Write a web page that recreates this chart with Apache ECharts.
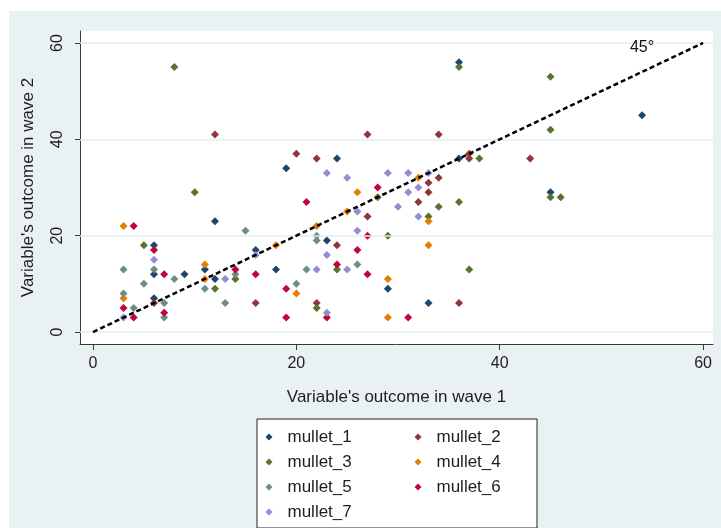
<!DOCTYPE html>
<html><head><meta charset="utf-8">
<script src="https://cdn.jsdelivr.net/npm/echarts@6/dist/echarts.min.js"></script>
<style>html,body{margin:0;padding:0;background:#fff;}#c{width:721px;height:528px;}</style>
</head><body><div id="c"></div>
<script>
// ---- data ----
const seriesNames = ['mullet_1','mullet_2','mullet_3','mullet_4','mullet_5','mullet_6','mullet_7'];
const mullet_1 = [[36,56],[54,45],[36,36],[24,36],[19,34],[12,23],[45,29],[6,18],[23,19],[16,17],[6,12],[9,12],[11,13],[12,11],[18,13],[29,9],[33,6],[6,7]];
const mullet_2 = [[12,41],[27,41],[34,41],[20,37],[22,36],[43,36],[37,37],[37,36],[34,32],[33,31],[33,29],[32,27],[27,24],[24,18],[16,6],[22,6],[36,6],[6,6]];
const mullet_3 = [[8,55],[36,55],[45,53],[45,42],[38,36],[10,29],[28,28],[45,28],[46,28],[36,27],[34,26],[33,24],[29,20],[5,18],[37,13],[24,13],[14,11],[12,9],[22,5]];
const mullet_4 = [[3,22],[3,7],[11,14],[11,11],[18,18],[20,8],[22,22],[25,25],[26,29],[32,32],[33,23],[33,18],[29,11],[29,3]];
const mullet_5 = [[3,13],[3,8],[4,5],[5,10],[6,13],[7,6],[7,3],[8,11],[11,9],[13,6],[14,12],[15,21],[20,10],[21,13],[22,20],[22,19],[26,14]];
const mullet_6 = [[4,22],[3,5],[4,3],[6,17],[7,12],[7,4],[14,13],[16,12],[19,9],[19,3],[21,27],[23,3],[24,14],[26,17],[27,20],[27,12],[28,30],[31,3]];
const mullet_7 = [[3,3],[6,15],[13,11],[16,16],[23,33],[25,32],[26,25],[26,21],[23,16],[22,13],[25,13],[23,4],[29,33],[31,33],[33,33],[30,26],[31,29],[32,30],[32,24]];
const xTicks = [0,20,40,60];
const yTicks = [0,20,40,60];
const diagonal = [[0,0],[60,60]];
const diagonalText = '45°';
const diagonalTextAt = [[54,59]];
const xTitle = "Variable's outcome in wave 1";
const yTitle = "Variable's outcome in wave 2";
const legendLeftCol = ['mullet_1','mullet_3','mullet_5','mullet_7'];
const legendRightCol = ['mullet_2','mullet_4','mullet_6'];

// ---- style ----
const seriesData = [mullet_1, mullet_2, mullet_3, mullet_4, mullet_5, mullet_6, mullet_7];
const colors = ['#1a476f','#90353b','#55752f','#e37e00','#6e8e84','#c10534','#938dd2'];
const FONT = '"Liberation Sans", Arial, sans-serif';
const TXT = '#1e1e1e';

const chart = echarts.init(document.getElementById('c'), null, {renderer:'canvas'});

const scatterSeries = seriesNames.map((n,i)=>({
  name:n, type:'scatter', data:seriesData[i], symbol:'diamond', symbolSize:8,
  itemStyle:{color:colors[i], opacity:1}, z:3, emphasis:{disabled:true}
}));

const legendCommon = {
  orient:'vertical', top:428.5, itemWidth:7, itemHeight:7, itemGap:8, padding:0,
  icon:'diamond', z:6, selectedMode:false,
  textStyle:{fontFamily:FONT, fontSize:17, lineHeight:17, color:TXT, padding:[0,0,0,10]}
};

chart.setOption({
  backgroundColor:'#e9f1f3',
  animation:false,
  color:colors,
  graphic:[
    {type:'rect', left:0, top:0, shape:{width:721, height:11}, style:{fill:'#fff'}, z:0},
    {type:'rect', left:0, top:0, shape:{width:9, height:528}, style:{fill:'#fff'}, z:0},
    {type:'rect', left:256.5, top:418.5, shape:{width:280, height:109}, style:{fill:'#fff', stroke:'#222', lineWidth:1}, z:1}
  ],
  grid:{left:80, right:8, top:31, bottom:184, show:true, backgroundColor:'#fff', borderWidth:0},
  xAxis:{
    type:'value', min:-1.28, max:60.98,
    name:xTitle, nameLocation:'middle', nameGap:45,
    nameTextStyle:{fontFamily:FONT, fontSize:17, color:TXT},
    axisLine:{show:true, onZero:false, lineStyle:{color:'#3a3a3a', width:1}},
    axisTick:{show:true, customValues:xTicks, length:6, lineStyle:{color:'#3a3a3a'}},
    axisLabel:{customValues:xTicks, margin:12, fontFamily:FONT, fontSize:16, color:TXT},
    splitLine:{show:false}
  },
  yAxis:{
    type:'value', min:-2.49, max:62.49,
    name:yTitle, nameLocation:'middle', nameGap:43,
    nameTextStyle:{fontFamily:FONT, fontSize:17, color:TXT},
    axisLine:{show:true, onZero:false, lineStyle:{color:'#3a3a3a', width:1}},
    axisTick:{show:true, customValues:yTicks, length:5, lineStyle:{color:'#3a3a3a'}},
    axisLabel:{customValues:yTicks, rotate:90, margin:14, fontFamily:FONT, fontSize:16, color:TXT},
    splitLine:{show:false}
  },
  legend:[
    Object.assign({}, legendCommon, {left:265.5, data:legendLeftCol}),
    Object.assign({}, legendCommon, {left:414.5, data:legendRightCol})
  ],
  series:[
    {
      name:'grid', type:'line', data:diagonal, silent:true, showSymbol:false,
      lineStyle:{opacity:0},
      markLine:{silent:true, symbol:'none', label:{show:false},
        lineStyle:{color:'#e2ecef', width:1.5, type:'solid'},
        data:yTicks.map(v=>({yAxis:v}))},
      z:1
    },
    ...scatterSeries,
    {
      name:'45', type:'line', data:diagonal, showSymbol:false, silent:true,
      lineStyle:{color:'#000', width:2.5, type:[5,3]}, z:5
    },
    {
      name:'45label', type:'scatter', data:diagonalTextAt, symbolSize:0, silent:true, z:6,
      itemStyle:{opacity:1},
      label:{show:true, position:'inside', formatter:diagonalText, fontFamily:FONT, fontSize:16, color:'#111', opacity:1}
    }
  ]
});
</script></body></html>
